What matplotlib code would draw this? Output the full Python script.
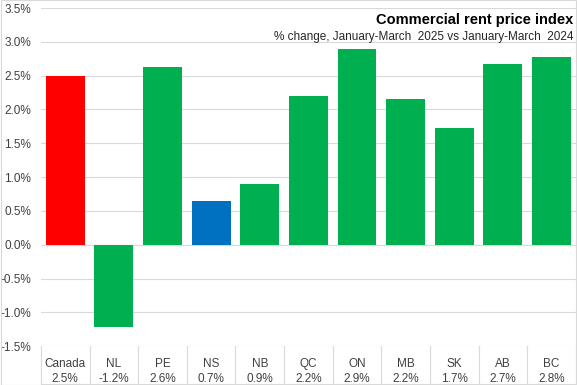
import matplotlib
matplotlib.use("Agg")
import matplotlib.pyplot as plt
from matplotlib.transforms import blended_transform_factory

# data
regions = ["Canada", "NL", "PE", "NS", "NB", "QC", "ON", "MB", "SK", "AB", "BC"]
changes = [2.50, -1.21, 2.63, 0.65, 0.90, 2.20, 2.90, 2.16, 1.72, 2.68, 2.77]
value_labels = ["2.5%", "-1.2%", "2.6%", "0.7%", "0.9%", "2.2%", "2.9%", "2.2%", "1.7%", "2.7%", "2.8%"]
bar_colors = ["#FF0000", "#00B050", "#00B050", "#0070C0", "#00B050", "#00B050",
              "#00B050", "#00B050", "#00B050", "#00B050", "#00B050"]
y_ticks = [-1.5, -1.0, -0.5, 0.0, 0.5, 1.0, 1.5, 2.0, 2.5, 3.0, 3.5]

plt.rcParams["font.family"] = ["Liberation Sans", "DejaVu Sans"]

fig = plt.figure(figsize=(5.77, 3.85), dpi=100)
ax = fig.add_axes([0.071, 0.101, 0.927, 0.878])

x = list(range(len(regions)))
ax.bar(x, changes, width=0.8, color=bar_colors, zorder=3)
ax.set_xlim(-0.5, len(regions) - 0.5)
ax.set_ylim(-1.5, 3.5)
ax.set_yticks(y_ticks)
ax.set_yticklabels([f"{t:.1f}%" for t in y_ticks], fontsize=8.5, color="#404040")
ax.tick_params(axis="y", length=0, pad=7)
ax.set_xticks([])
ax.grid(axis="y", color="#D9D9D9", linewidth=0.8, zorder=0)
for side in ["top", "right", "left", "bottom"]:
    ax.spines[side].set_visible(False)
ax.axhline(0, color="#D9D9D9", linewidth=0.8, zorder=1)

# data table under the plot: category names and values
trans = blended_transform_factory(ax.transData, ax.transAxes)
bottom = -0.113
for i in range(len(regions) + 1):
    ax.plot([i - 0.5, i - 0.5], [0, bottom], transform=trans, color="#D9D9D9",
            linewidth=0.8, clip_on=False)
ax.plot([-0.5, len(regions) - 0.5], [bottom, bottom], transform=trans,
        color="#D9D9D9", linewidth=0.8, clip_on=False)
for i, (name, val) in enumerate(zip(regions, value_labels)):
    ax.text(i, -0.054, name, transform=trans, ha="center", va="center",
            fontsize=8.5, color="#404040")
    ax.text(i, -0.098, val, transform=trans, ha="center", va="center",
            fontsize=8.5, color="#404040")

ax.text(0.995, 0.985, "Commercial rent price index", transform=ax.transAxes,
        ha="right", va="top", fontsize=10.5, fontweight="bold", color="black")
ax.text(0.995, 0.933, "% change, January-March  2025 vs January-March  2024",
        transform=ax.transAxes, ha="right", va="top", fontsize=8.5, color="#262626")

fig.add_artist(plt.Rectangle((0.001, 0.001), 0.998, 0.998, transform=fig.transFigure,
                             fill=False, edgecolor="#D9D9D9", linewidth=0.8))
fig.savefig("out.png", dpi=100)
